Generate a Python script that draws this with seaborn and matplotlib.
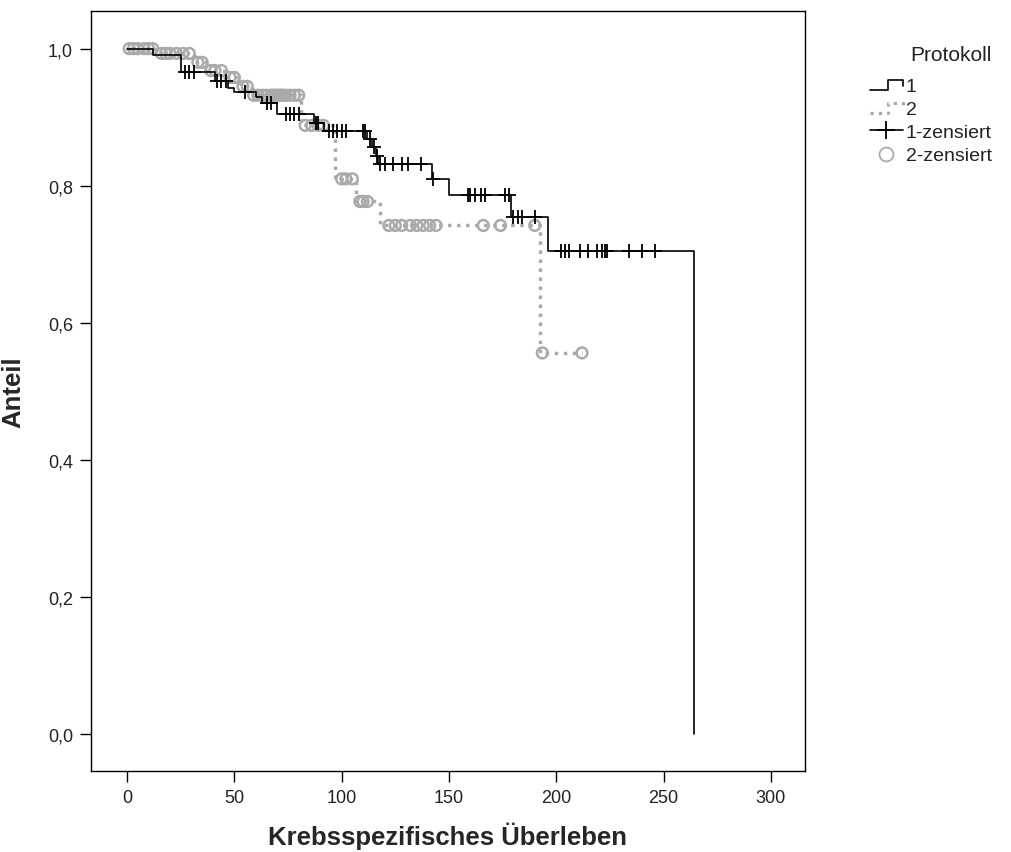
import numpy as np
import pandas as pd
import seaborn as sns
import matplotlib.pyplot as plt
from matplotlib.lines import Line2D
from matplotlib.legend_handler import HandlerBase

# Kaplan-Meier steps
times_1 = [0, 12, 25, 41, 47, 50, 60, 63, 70, 87, 92, 112, 114, 116, 117, 142, 150, 179, 196, 264]
surv_1 = [1.0, 0.99, 0.966, 0.953, 0.942, 0.937, 0.93, 0.92, 0.905, 0.892, 0.88, 0.868, 0.856, 0.844, 0.832, 0.81, 0.786, 0.755, 0.705, 0.0]
cens_1 = [27, 29, 31, 42, 44, 46, 55, 65, 67, 74, 76, 78, 80, 88, 89, 94, 96, 98, 100, 102,
          110, 111, 113, 115, 116.5, 118, 120, 124, 128, 131, 137, 142.5, 159, 160, 162, 165, 167,
          176, 178, 180, 182, 184, 190, 202, 204, 206, 211, 215, 219, 221.5, 222.5, 223.5, 234,
          240, 246]

times_2 = [0, 14, 31, 37, 46, 52, 58, 81, 97, 106.5, 118, 192.5, 212]
surv_2 = [1.0, 0.993, 0.98, 0.968, 0.958, 0.945, 0.932, 0.888, 0.81, 0.777, 0.742, 0.556, 0.556]
cens_2 = [1, 3, 5, 8, 10, 12, 16, 18, 20, 23, 26, 29, 33, 35, 39, 41, 44, 48, 50, 54, 56,
          59, 61, 63, 65, 67, 68, 69, 70, 71, 72, 73, 74, 76, 78, 80, 83, 86, 89, 91.5,
          100, 102, 105, 108.5, 110, 112, 122, 125, 128, 132, 135, 138, 141, 144,
          166, 174, 190, 193.5, 212]

x_ticks = [0, 50, 100, 150, 200, 250, 300]
y_ticks = [0.0, 0.2, 0.4, 0.6, 0.8, 1.0]
y_tick_labels = ['0,0', '0,2', '0,4', '0,6', '0,8', '1,0']
legend_labels = ['1', '2', '1-zensiert', '2-zensiert']


def step_value(t, times, surv):
    idx = np.searchsorted(times, t, side='right') - 1
    return np.asarray(surv)[idx]


df1 = pd.DataFrame({'t': times_1, 's': surv_1})
df2 = pd.DataFrame({'t': times_2, 's': surv_2})
c1 = pd.DataFrame({'t': cens_1, 's': step_value(cens_1, times_1, surv_1)})
c2 = pd.DataFrame({'t': cens_2, 's': step_value(cens_2, times_2, surv_2)})

sns.set_style('ticks')
plt.rcParams['font.family'] = ['Liberation Sans', 'DejaVu Sans']

gray = '#aaaaaa'
fig = plt.figure(figsize=(10.11, 8.53), dpi=100)
ax = fig.add_axes([0.09, 0.095, 0.706, 0.891])

sns.lineplot(data=df2, x='t', y='s', ax=ax, estimator=None, sort=False, drawstyle='steps-post',
             color=gray, linewidth=2.5, linestyle=(0, (1.0, 1.6)), legend=False)
sns.scatterplot(data=c2, x='t', y='s', ax=ax, marker='o', s=60, facecolor='none',
                edgecolor=gray, linewidth=1.8, legend=False, zorder=3)
sns.lineplot(data=df1, x='t', y='s', ax=ax, estimator=None, sort=False, drawstyle='steps-post',
             color='black', linewidth=1.2, legend=False, zorder=4)
sns.scatterplot(data=c1, x='t', y='s', ax=ax, marker='+', s=90, color='black',
                linewidth=1.3, legend=False, zorder=5)

ax.set_xlim(-16.8, 315.8)
ax.set_ylim(-0.054, 1.055)
ax.set_xticks(x_ticks)
ax.set_yticks(y_ticks)
ax.set_yticklabels(y_tick_labels)
ax.tick_params(axis='both', direction='out', length=8, width=1, labelsize=13,
               colors='black', labelcolor='#222222', pad=5)
for sp in ax.spines.values():
    sp.set_visible(True)
    sp.set_linewidth(1.0)
    sp.set_color('black')

label_font = dict(family=['Liberation Sans Narrow', 'Liberation Sans', 'DejaVu Sans'],
                  fontsize=18.5, fontweight='bold')
ax.set_xlabel('Krebsspezifisches Überleben', labelpad=11, **label_font)
ax.set_ylabel('Anteil', labelpad=16, **label_font)


class StepHandler(HandlerBase):
    def __init__(self, color, lw, ls):
        super().__init__()
        self.color, self.lw, self.ls = color, lw, ls

    def create_artists(self, legend, orig_handle, x0, y0, width, height, fontsize, trans):
        xs = [x0, x0 + 0.55 * width, x0 + 0.55 * width, x0 + width, x0 + width]
        ys = [y0 + 0.1 * height, y0 + 0.1 * height, y0 + 0.8 * height,
              y0 + 0.8 * height, y0 + 0.35 * height]
        ln = Line2D(xs, ys, color=self.color, lw=self.lw, linestyle=self.ls, transform=trans)
        return [ln]


h1 = Line2D([], [])
h2 = Line2D([0], [0])
h3 = Line2D([0], [0], color='black', lw=1.2, marker='+', markersize=13, markeredgewidth=1.3)
h4 = Line2D([0], [0], color='none', marker='o', markersize=10, markerfacecolor='none',
            markeredgecolor=gray, markeredgewidth=1.3)
leg = fig.legend([h1, h2, h3, h4], legend_labels, loc='upper left',
                 bbox_to_anchor=(0.843, 0.967), frameon=False, fontsize=14,
                 title='Protokoll', title_fontsize=15, handlelength=1.7,
                 handletextpad=0.15, labelspacing=0.28,
                 handler_map={h1: StepHandler('black', 1.2, '-'),
                              h2: StepHandler(gray, 2.3, (0, (1.0, 1.6)))})
for t in leg.get_texts():
    t.set_color('#222222')
leg.get_title().set_color('#222222')
leg._legend_box.align = 'right'
leg._legend_box.sep = 10

fig.savefig('out.png', dpi=100)
